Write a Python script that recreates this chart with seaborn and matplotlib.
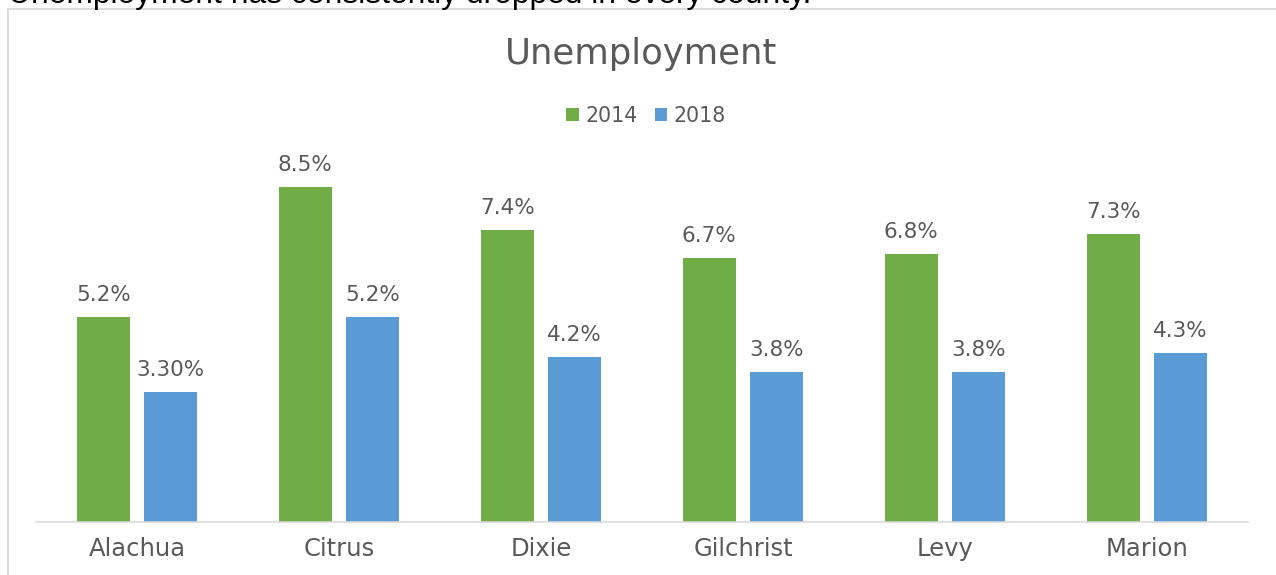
import matplotlib
matplotlib.use("Agg")
import matplotlib.pyplot as plt
import matplotlib.patches as mpatches
import numpy as np
import pandas as pd
import seaborn as sns

# Unemployment rate (%) by county
counties = ["Alachua", "Citrus", "Dixie", "Gilchrist", "Levy", "Marion"]
rate_2014 = [5.2, 8.5, 7.4, 6.7, 6.8, 7.3]
rate_2018 = [3.3, 5.2, 4.2, 3.8, 3.8, 4.3]
decimals_2014 = [1, 1, 1, 1, 1, 1]
decimals_2018 = [2, 1, 1, 1, 1, 1]
years = ["2014", "2018"]

GREEN = "#70AD47"
BLUE = "#5B9BD5"
TEXT = "#595959"
GRID = "#D9D9D9"

df = pd.DataFrame({
    "County": counties * 2,
    "Year": [years[0]] * len(counties) + [years[1]] * len(counties),
    "Rate": rate_2014 + rate_2018,
    "Decimals": decimals_2014 + decimals_2018,
})

sns.set_theme(style="white")
plt.rcParams["font.family"] = ["DejaVu Sans"]

W, H = 1276, 575
fig = plt.figure(figsize=(W / 100, H / 100), dpi=100)

# plot area in pixel terms
left_px, right_px, base_px = 36, 1248, 522
ymax = 9.0
px_per_unit = 39.4
top_px = base_px - ymax * px_per_unit
ax = fig.add_axes([left_px / W, (H - base_px) / H,
                   (right_px - left_px) / W, (base_px - top_px) / H])

sns.barplot(data=df, x="County", y="Rate", hue="Year", order=counties,
            hue_order=years, palette=[GREEN, BLUE], width=0.668, gap=0.215,
            saturation=1, ax=ax, edgecolor="none", linewidth=0)

ax.set_ylim(0, ymax)
ax.set_xlim(-0.5, len(counties) - 0.5)
ax.set_xlabel("")
ax.set_ylabel("")
ax.set_yticks([])
for side in ["left", "right", "top"]:
    ax.spines[side].set_visible(False)
ax.spines["bottom"].set_color(GRID)
ax.spines["bottom"].set_linewidth(1.1)
ax.tick_params(axis="x", length=0, pad=11, labelsize=17.5, labelcolor=TEXT)

# value labels above each bar
for container, yr in zip(ax.containers, years):
    sub = df[df["Year"] == yr].set_index("County").loc[counties]
    for rect, val, dec in zip(container.patches, sub["Rate"], sub["Decimals"]):
        ax.annotate(f"{val:.{dec}f}%",
                    xy=(rect.get_x() + rect.get_width() / 2, rect.get_height()),
                    xytext=(0, 16), textcoords="offset pixels",
                    ha="center", va="baseline", fontsize=15.5, color=TEXT)

# legend centred under the title
handles, labels = ax.get_legend_handles_labels()
ax.get_legend().remove()
fig.legend(handles, labels, loc="center", bbox_to_anchor=(646 / W, 1 - 116 / H),
           ncol=2, frameon=False, fontsize=14.8, labelcolor=TEXT,
           handlelength=0.62, handleheight=0.62, handletextpad=0.3,
           columnspacing=0.85)

# chart title
fig.text(641 / W, 1 - 64 / H, "Unemployment", ha="center", va="baseline",
         fontsize=25.5, color=TEXT)

# chart frame (left and top edges inside the canvas)
fig.add_artist(mpatches.Rectangle((7.5 / W, -0.1), 1.2, (H - 8.5) / H + 0.1,
                                  transform=fig.transFigure, fill=False,
                                  edgecolor=GRID, linewidth=1.3))

# sentence above the chart
fig.text(8 / W, 1 - 3 / H, "Unemployment has consistently dropped in every county.",
         ha="left", va="baseline", fontsize=22.9, color="black",
         family=["Liberation Sans", "DejaVu Sans"])

fig.savefig("out.png", dpi=100, facecolor="white")
